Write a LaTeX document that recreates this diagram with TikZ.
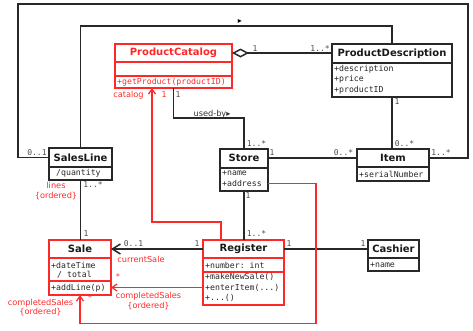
\documentclass[tikz,border=0pt]{standalone}
\usepackage{fontspec}
\setmainfont{DejaVu Sans}
\setmonofont{DejaVu Sans Mono}
\usetikzlibrary{arrows.meta}
\definecolor{umlred}{RGB}{255,40,40}
\definecolor{umlline}{RGB}{40,40,40}
\tikzset{
  classbox/.style={draw=umlline, line width=1.5pt, inner sep=0pt, outer sep=0pt, anchor=north west},
  redbox/.style={classbox, draw=umlred, line width=1.3pt},
  ctitle/.style={font=\bfseries\fontsize{10}{12}\selectfont, inner sep=0pt, text=black!90},
  attr/.style={font=\ttfamily\fontsize{8.2}{10}\selectfont, anchor=west, inner sep=0pt, text=black!85},
  mult/.style={font=\ttfamily\fontsize{8}{9}\selectfont, inner sep=0pt, text=black!70},
  rmult/.style={mult, text=umlred},
  rlabel/.style={font=\fontsize{8.2}{9.6}\selectfont, inner sep=0pt, text=umlred, align=center},
  divider/.style={draw=umlline, line width=1.2pt},
  rdivider/.style={draw=umlred, line width=1.2pt},
  assoc/.style={draw=umlline, line width=1.5pt},
  rassoc/.style={draw=umlred, line width=1.25pt},
  aggr/.style={assoc, {Diamond[open, length=17pt, width=9pt]}-},
  navarrow/.style={assoc, -{Straight Barb[length=8pt, width=10pt]}},
  rnav/.style={rassoc, -{Straight Barb[length=5pt, width=7pt]}},
  dirmark/.style={font=\fontsize{8}{9}\selectfont, inner sep=0pt, text=black}
}
\begin{document}
\begin{tikzpicture}[x=1pt, y=-1pt]
\useasboundingbox (0,0) rectangle (473,330);

% ---------- classes ----------
% ProductCatalog
\node[redbox, minimum width=117pt, minimum height=44pt] (pc) at (115,44) {};
\node[ctitle, text=umlred] (pct) at (173.5,53) {ProductCatalog};
\draw[rdivider] (115,62) -- (232,62);
\draw[rdivider] (115,76) -- (232,76);
\node[attr, text=umlred] (pcm1) at (117,82) {+getProduct(productID)};

% ProductDescription
\node[classbox, minimum width=120pt, minimum height=53pt] (pd) at (332,44) {};
\node[ctitle] (pdt) at (392,53.5) {ProductDescription};
\draw[divider] (332,63) -- (452,63);
\node[attr] (pda1) at (334,69) {+description};
\node[attr] (pda2) at (334,79.5) {+price};
\node[attr] (pda3) at (334,90) {+productID};

% SalesLine
\node[classbox, minimum width=63pt, minimum height=32pt] (sl) at (49,148) {};
\node[ctitle] (slt) at (80.5,157.5) {SalesLine};
\draw[divider] (49,167) -- (112,167);
\node[attr] (sla1) at (56,173.5) {/quantity};

% Store
\node[classbox, minimum width=48pt, minimum height=42pt] (st) at (220,149) {};
\node[ctitle] (stt) at (244,158) {Store};
\draw[divider] (220,168) -- (268,168);
\node[attr] (sta1) at (222,173.3) {+name};
\node[attr] (sta2) at (222,183.5) {+address};

% Item
\node[classbox, minimum width=72pt, minimum height=32pt] (it) at (357,149) {};
\node[ctitle] (itt) at (393,158) {Item};
\draw[divider] (357,167) -- (429,167);
\node[attr] (ita1) at (359,174) {+serialNumber};

% Sale
\node[redbox, minimum width=62pt, minimum height=55pt] (sa) at (49,240) {};
\node[ctitle] (sat) at (80,249) {Sale};
\draw[rdivider] (49,258) -- (111,258);
\draw[rdivider] (49,281) -- (111,281);
\node[attr] (saa1) at (51,265) {+dateTime};
\node[attr] (saa2) at (57,275) {/ total};
\node[attr] (sam1) at (51,288) {+addLine(p)};

% Register
\node[redbox, minimum width=81pt, minimum height=65pt] (rg) at (203,240) {};
\node[ctitle] (rgt) at (243.5,249) {Register};
\draw[rdivider] (203,258) -- (284,258);
\draw[rdivider] (203,272) -- (284,272);
\node[attr] (rga1) at (205,265) {+number: int};
\node[attr] (rgm1) at (205,276.7) {+makeNewSale()};
\node[attr] (rgm2) at (205,287.5) {+enterItem(...)};
\node[attr] (rgm3) at (205,298.3) {+...()};

% Cashier
\node[classbox, minimum width=51pt, minimum height=31pt] (ca) at (368,240) {};
\node[ctitle] (cat) at (393.5,249) {Cashier};
\draw[divider] (368,258) -- (419,258);
\node[attr] (caa1) at (370,265) {+name};

% ---------- associations ----------
\coordinate (outerTL) at (18,4);
\coordinate (outerTR) at (468,4);

% SalesLine -- Item (outer frame)
\draw[assoc] (sl.west |- slt) -| (outerTL) -- (outerTR) |- (it.east |- itt);
\node[mult] at (37,153) {0..1};
\node[mult] at (441,153) {1..*};

% SalesLine -- ProductDescription
\draw[assoc] (sl.north) |- ([yshift=18pt]pd.north) -- (pd.north);
\node[dirmark] at (240,21.5) {▸};

% ProductCatalog <>-- ProductDescription
\draw[aggr] (pc.east |- pct) -- (pd.west |- pct);
\node[mult] at (255,48.5) {1};
\node[mult] at (320,48.5) {1..*};

% ProductCatalog -- Store (used-by)
\draw[assoc] (pc.south) |- ([yshift=31pt]st.north) -- (st.north);
\node[mult] at (178,95) {1};
\node[dirmark, font=\fontsize{8.2}{9.6}\selectfont, text=black!80] at (212,114) {used-by▸};
\node[mult] at (256.5,144) {1..*};

% Store -- Item
\draw[assoc] (st.east |- stt) -- (it.west |- itt);
\node[mult] at (272,153) {1};
\node[mult] at (343.5,153) {0..*};

% ProductDescription -- Item
\draw[assoc] (pd.south) -- (pd.south |- it.north);
\node[mult] at (397,102) {1};
\node[mult] at (404.5,144) {0..*};

% SalesLine -- Sale
\draw[assoc] (sl.south) -- (sl.south |- sa.north);
\node[mult] at (93,185) {1..*};
\node[mult] at (86,234) {1};
\node[rlabel] at (56,191) {lines\\\{ordered\}};

% Store -- Register
\draw[assoc] (st.south) -- (st.south |- rg.north);
\node[mult] at (248,196) {1};
\node[mult] at (256.5,234) {1..*};

% Register --> Sale (currentSale)
\draw[navarrow] (rg.west |- rgt) -- (sa.east |- rgt);
\node[mult] at (133.5,243.5) {0..1};
\node[mult] at (197,243.5) {1};
\node[rlabel] at (141,259) {currentSale};

% Register -- Cashier
\draw[assoc] (rg.east |- rgt) -- (ca.west |- cat);
\node[mult] at (289,244) {1};
\node[mult] at (363,244) {1};

% Register --> ProductCatalog (catalog)
\draw[rnav] ([xshift=-22.5pt]rg.north) -- ++(0,-18) -| ([xshift=-21.5pt]pc.south);
\node[rlabel] at (128.5,95) {catalog};
\node[rmult] at (164,95) {1};

% Register --> Sale (completedSales)
\draw[rnav] (rg.west |- rgm2) -- (sa.east |- rgm2);
\node[rmult] at (118,277) {*};
\node[rlabel] at (148.5,301) {completedSales\\\{ordered\}};

% Store --> Sale (completedSales)
\draw[rnav] (st.east |- sta2) -- ++(48,0) -- ++(0,140) -| (sa.south);
\node[rmult] at (90,298) {*};
\node[rlabel] at (40.5,307.5) {completedSales\\\{ordered\}};

\end{tikzpicture}
\end{document}
